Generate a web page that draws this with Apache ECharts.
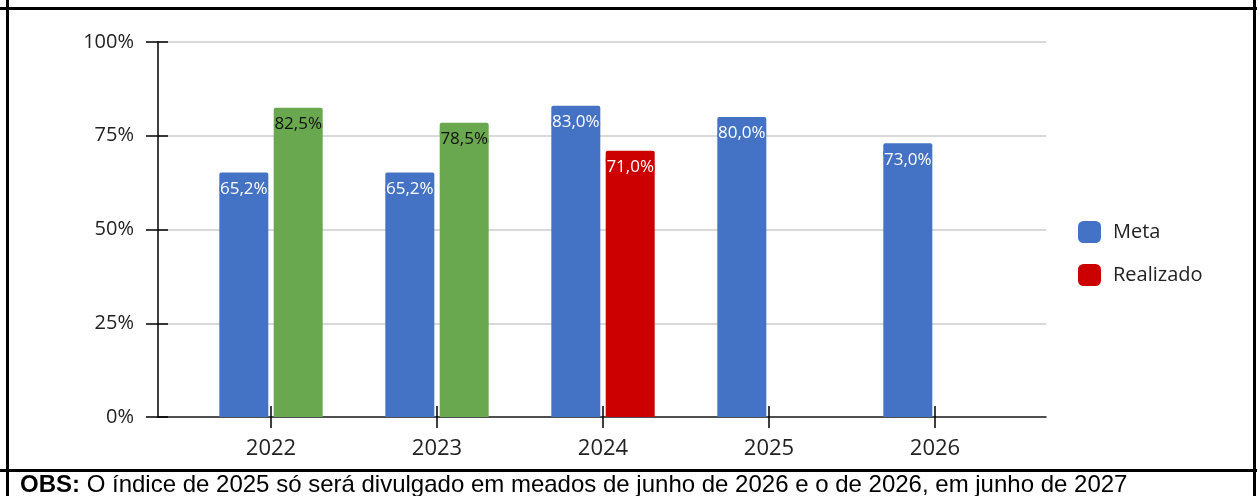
<!DOCTYPE html>
<html>
<head>
<meta charset="utf-8">
<script src="https://cdn.jsdelivr.net/npm/echarts@6/dist/echarts.min.js"></script>
<style>
  html, body { margin: 0; padding: 0; background: #fff; }
  #chart { width: 1257px; height: 496px; }
</style>
</head>
<body>
<div id="chart"></div>
<script>
// dados do gráfico
const anos = ['2022', '2023', '2024', '2025', '2026']
const meta = [65.2, 65.2, 83.0, 80.0, 73.0]
const realizado = [82.5, 78.5, 71.0, null, null]
// cor de cada barra de "Realizado" (verde = meta atingida)
const corRealizado = ['#6aa84f', '#6aa84f', '#cc0000', '#cc0000', '#cc0000']
const obs = 'O índice de 2025 só será divulgado em meados de junho de 2026 e o de 2026, em junho de 2027'

const AZUL = '#4472c4'
const fonte = "'Open Sans', sans-serif"
const arial = "'Liberation Sans', Arial, sans-serif"
const fmt = (v) => v.toFixed(1).replace('.', ',') + '%'

const myChart = echarts.init(document.getElementById('chart'))

const option = {
  animation: false,
  backgroundColor: '#fff',
  textStyle: { fontFamily: fonte },
  grid: [
    // grade com eixo Y e linhas de grade
    { left: 158, right: 211, top: 42, bottom: 79 },
    // grade só para as barras (categorias mais estreitas)
    { left: 188, right: 239, top: 42, bottom: 79 }
  ],
  legend: {
    orient: 'vertical',
    left: 1073,
    top: 216,
    icon: 'roundRect',
    itemWidth: 23,
    itemHeight: 22,
    itemGap: 21,
    data: ['Meta', 'Realizado'],
    textStyle: { fontSize: 20, lineHeight: 22, color: '#222', fontFamily: fonte, padding: [0, 0, 0, 7] }
  },
  xAxis: [
    {
      gridIndex: 0,
      type: 'category',
      data: [''],
      axisLine: { show: true, lineStyle: { color: '#222', width: 1.5 } },
      axisTick: { show: false },
      axisLabel: { show: false }
    },
    {
      gridIndex: 1,
      type: 'category',
      data: anos,
      axisLine: { show: false },
      axisTick: { show: true, alignWithLabel: true, length: 11, lineStyle: { color: '#000', width: 1.5 } },
      axisLabel: { margin: 21, fontSize: 22, color: '#222', fontFamily: fonte }
    },
    {
      // parte de dentro dos tiques (cruzam o eixo)
      gridIndex: 1,
      type: 'category',
      data: anos,
      position: 'bottom',
      axisLine: { show: false },
      axisTick: { show: true, inside: true, alignWithLabel: true, length: 11, lineStyle: { color: '#000', width: 1.5 } },
      axisLabel: { show: false }
    }
  ],
  yAxis: [
    {
      gridIndex: 0,
      type: 'value',
      min: 0,
      max: 100,
      interval: 25,
      axisLine: { show: true, lineStyle: { color: '#000', width: 1.5 } },
      axisTick: { show: true, length: 12, lineStyle: { color: '#000', width: 1.5 } },
      axisLabel: { margin: 24, fontSize: 20, color: '#222', fontFamily: fonte, formatter: '{value}%' },
      splitLine: { show: true, lineStyle: { color: '#cccccc', width: 1.5 } }
    },
    {
      gridIndex: 0,
      type: 'value',
      min: 0,
      max: 100,
      interval: 25,
      position: 'left',
      axisLine: { show: false },
      axisTick: { show: true, inside: true, length: 10, lineStyle: { color: '#000', width: 1.5 } },
      axisLabel: { show: false },
      splitLine: { show: false }
    },
    {
      gridIndex: 1,
      type: 'value',
      min: 0,
      max: 100,
      show: false
    }
  ],
  series: [
    {
      name: 'Meta',
      type: 'bar',
      xAxisIndex: 1,
      yAxisIndex: 2,
      barWidth: 49,
      barGap: '11%',
      color: AZUL,
      itemStyle: { borderRadius: [2, 2, 0, 0] },
      label: {
        show: true,
        position: 'insideTop',
        distance: 8,
        fontSize: 17,
        fontFamily: fonte,
        color: '#fff',
        textBorderColor: AZUL,
        textBorderWidth: 3,
        formatter: (p) => fmt(p.value)
      },
      data: meta
    },
    {
      name: 'Realizado',
      type: 'bar',
      xAxisIndex: 1,
      yAxisIndex: 2,
      barWidth: 49,
      barGap: '11%',
      color: '#cc0000',
      itemStyle: { borderRadius: [2, 2, 0, 0] },
      label: {
        show: true,
        position: 'insideTop',
        distance: 8,
        fontSize: 17,
        fontFamily: fonte,
        textBorderWidth: 3,
        formatter: (p) => fmt(p.value)
      },
      data: realizado.map((v, i) => ({
        value: v,
        itemStyle: { color: corRealizado[i] },
        label: {
          color: corRealizado[i] === '#cc0000' ? '#fff' : '#111',
          textBorderColor: corRealizado[i]
        }
      }))
    }
  ],
  graphic: [
    // bordas da tabela
    { type: 'line', shape: { x1: 0, y1: 8.5, x2: 1257, y2: 8.5 }, style: { stroke: '#000', lineWidth: 3 } },
    { type: 'line', shape: { x1: 0, y1: 470.5, x2: 1257, y2: 470.5 }, style: { stroke: '#000', lineWidth: 3 } },
    { type: 'line', shape: { x1: 7.5, y1: 0, x2: 7.5, y2: 496 }, style: { stroke: '#000', lineWidth: 3 } },
    { type: 'line', shape: { x1: 1254.5, y1: 0, x2: 1254.5, y2: 496 }, style: { stroke: '#000', lineWidth: 3 } },
    {
      type: 'text',
      left: 20,
      top: 473,
      style: {
        text: '{b|OBS:} ' + obs,
        font: '24px ' + arial,
        fill: '#000',
        rich: {
          b: { fontWeight: 'bold', fontSize: 24, fontFamily: arial }
        }
      }
    }
  ]
}

myChart.setOption(option)
</script>
</body>
</html>
